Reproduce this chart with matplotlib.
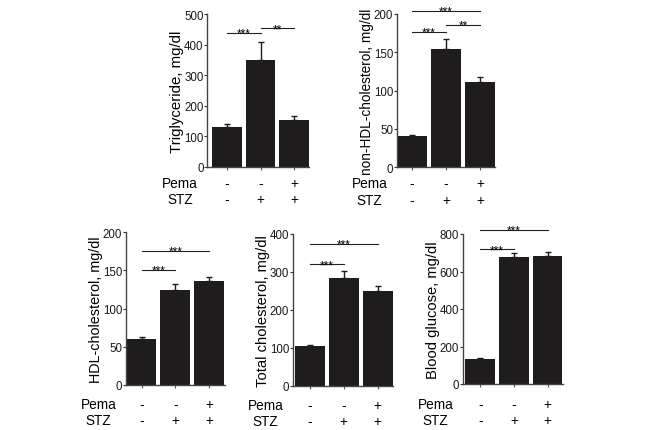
import numpy as np
import matplotlib
matplotlib.use("Agg")
import matplotlib.pyplot as plt

plt.rcParams["font.family"] = ["Liberation Sans", "DejaVu Sans"]

W, H = 661, 431

# groups
pema = ["-", "-", "+"]
stz = ["-", "+", "+"]

# values (mean, upper error)
tg = [131, 349, 154]
tg_err = [9, 58, 11]
nonhdl = [41, 154, 111]
nonhdl_err = [1.5, 14, 7]
hdl = [60, 125, 136]
hdl_err = [2.5, 7, 6]
tc = [105, 283, 250]
tc_err = [3, 20, 13]
glu = [133, 679, 684]
glu_err = [6, 20, 22]

# significance brackets: (from, to, height, stars)
tg_sig = [(0, 1, 438, "***"), (1, 2, 454, "**")]
nonhdl_sig = [(0, 1, 177, "***"), (1, 2, 186, "**"), (0, 2, 204, "***")]
hdl_sig = [(0, 1, 151, "***"), (0, 2, 176, "***")]
tc_sig = [(0, 1, 321, "***"), (0, 2, 374, "***")]
glu_sig = [(0, 1, 720, "***"), (0, 2, 823, "***")]

panels = [
    # pixel box (left, top, right, bottom), xlim, ymax, yticks, label, label size,
    # gap to the Pema row, data
    ((207, 15, 309, 167.7), (-0.6, 2.45), 500, [0, 100, 200, 300, 400, 500],
     "Triglyceride, mg/dl", 10.8, 16, tg, tg_err, tg_sig),
    ((396.7, 15, 495.3, 168.3), (-0.45, 2.45), 200, [0, 50, 100, 150, 200],
     "non-HDL-cholesterol, mg/dl", 9.8, 16, nonhdl, nonhdl_err, nonhdl_sig),
    ((125.7, 233.3, 224.8, 386), (-0.47, 2.47), 200, [0, 50, 100, 150, 200],
     "HDL-cholesterol, mg/dl", 10.4, 19, hdl, hdl_err, hdl_sig),
    ((292.7, 235, 393, 386.7), (-0.5, 2.45), 400, [0, 100, 200, 300, 400],
     "Total cholesterol, mg/dl", 10.6, 19, tc, tc_err, tc_sig),
    ((462.7, 235, 562.8, 385), (-0.52, 2.45), 800, [0, 200, 400, 600, 800],
     "Blood glucose, mg/dl", 10.6, 20, glu, glu_err, glu_sig),
]

fig = plt.figure(figsize=(W / 100, H / 100), dpi=100)

for box, xlim, ymax, yticks, label, lsize, gap, vals, errs, sigs in panels:
    l, t, r, b = box
    ax = fig.add_axes([l / W, 1 - b / H, (r - l) / W, (b - t) / H])
    x = np.arange(len(vals))
    ax.bar(x, vals, width=0.88, color="#1e1c1d", zorder=2)
    ax.errorbar(x, vals, yerr=[np.zeros(len(errs)), errs], fmt="none",
                ecolor="#1e1c1d", elinewidth=1, capsize=2, capthick=1, zorder=1)
    ax.set_xlim(*xlim)
    ax.set_ylim(0, ymax)
    ax.set_yticks(yticks)
    ax.set_xticks(x)
    ax.set_xticklabels([])
    ax.tick_params(axis="y", labelsize=8.3, length=2, width=0.8, pad=0.5,
                   colors="#333333", labelcolor="#1a1a1a")
    ax.tick_params(axis="x", length=2.5, width=0.8, colors="#555555")
    for s in ("top", "right"):
        ax.spines[s].set_visible(False)
    for s in ("left", "bottom"):
        ax.spines[s].set_linewidth(1)
        ax.spines[s].set_color("#444444")
    ax.set_ylabel(label, fontsize=lsize, labelpad=0)

    # significance bars
    for i, j, y, stars in sigs:
        ax.plot([i, j], [y, y], color="#222222", lw=0.8, clip_on=False)
        ax.annotate(stars, xy=((i + j) / 2, y), xytext=(0, -4),
                    textcoords="offset pixels", ha="center", va="baseline",
                    fontsize=8.5, annotation_clip=False)

    # treatment rows
    for row, (name, signs) in enumerate([("Pema", pema), ("STZ", stz)]):
        dy = -gap - 16.5 * row
        ax.annotate(name, xy=(0, 0), xycoords="axes fraction",
                    xytext=(-27, dy), textcoords="offset pixels",
                    ha="center", va="center", fontsize=9.8)
        for k, sgn in enumerate(signs):
            ax.annotate(sgn, xy=(k, 0), xycoords=("data", "axes fraction"),
                        xytext=(0, dy), textcoords="offset pixels",
                        ha="center", va="center", fontsize=9.8)

fig.savefig("out.png", dpi=100)
